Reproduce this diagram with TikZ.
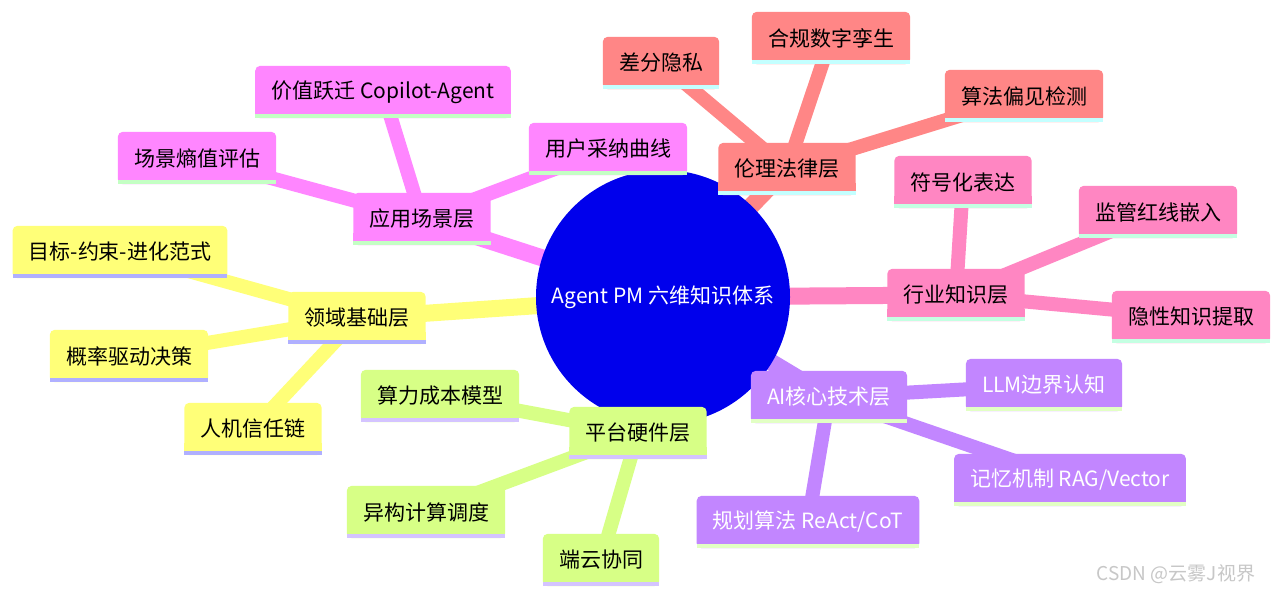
\documentclass[tikz,border=0pt]{standalone}
\usepackage{fontspec}
\setmainfont{Noto Sans CJK SC}
\usetikzlibrary{calc}
\pgfdeclarelayer{bg}
\pgfdeclarelayer{edges}
\pgfdeclarelayer{boxes}
\pgfsetlayers{bg,edges,boxes,main}
\definecolor{rootblue}{HTML}{0000EC}
\definecolor{cEth}{HTML}{FF8686}
\definecolor{bEth}{HTML}{C4FFFF}
\definecolor{cApp}{HTML}{FF86FF}
\definecolor{bApp}{HTML}{C4FFC4}
\definecolor{cDom}{HTML}{FFFF78}
\definecolor{bDom}{HTML}{B0B0FF}
\definecolor{cPlat}{HTML}{D7FF86}
\definecolor{bPlat}{HTML}{D4C4FF}
\definecolor{cAI}{HTML}{C286FF}
\definecolor{bAI}{HTML}{E2FFC4}
\definecolor{cInd}{HTML}{FF86C2}
\definecolor{bInd}{HTML}{C4FFE2}
\begin{document}
\begin{tikzpicture}[x=1pt,y=-1pt,
  box/.style={inner xsep=16pt, inner ysep=0pt, minimum height=52pt,
    font=\fontsize{21}{24}\selectfont, text=black},
  whitebox/.style={box, text=white},
  secedge/.style={line width=17pt},
  subedge/.style={line width=14pt},
  rootnode/.style={circle, inner sep=0pt, minimum size=254pt, text=white,
    font=\fontsize{21}{24}\selectfont},
  mark text/.style={font=\fontsize{19}{22}\selectfont, text=black!22}
]
\begin{pgfonlayer}{bg}
\useasboundingbox[fill=white] (0,0) rectangle (1280,596);
\end{pgfonlayer}

% root
\node[rootnode] (root) at (663,297) {Agent PM 六维知识体系};

% sections
\node[box] (eth) at (787,169) {伦理法律层};
\node[box] (app) at (422,219) {应用场景层};
\node[box] (dom) at (357,318) {领域基础层};
\node[box] (plat) at (638,433) {平台硬件层};
\node[whitebox] (ai) at (829,397) {AI核心技术层};
\node[box] (ind) at (956,295) {行业知识层};

% children
\node[box] (dp) at (661,63) {差分隐私};
\node[box] (twin) at (831,38) {合规数字孪生};
\node[box] (bias) at (1024,96) {算法偏见检测};

\node[box] (val) at (383,92) {价值跃迁 Copilot-Agent};
\node[box] (ent) at (197,158) {场景熵值评估};
\node[box] (adopt) at (608,149) {用户采纳曲线};

\node[box] (goal) at (120,252) {目标-约束-进化范式};
\node[box] (prob) at (129,356) {概率驱动决策};
\node[box] (trust) at (253,429) {人机信任链};

\node[box] (cost) at (440,396) {算力成本模型};
\node[box] (het) at (426,512) {异构计算调度};
\node[box] (edge) at (601,560) {端云协同};

\node[whitebox] (llm) at (1044,385) {LLM边界认知};
\node[whitebox] (mem) at (1070,480) {记忆机制 RAG/Vector};
\node[whitebox] (plan) at (808,522) {规划算法 ReAct/CoT};

\node[box] (sym) at (963,182) {符号化表达};
\node[box] (reg) at (1158,212) {监管红线嵌入};
\node[box] (tacit) at (1191,317) {隐性知识提取};

\node[mark text] (mark) at (1176,574) {CSDN @云雾J视界};

% edges
\begin{pgfonlayer}{edges}
  \foreach \s/\c in {eth/cEth, app/cApp, dom/cDom, plat/cPlat, ai/cAI, ind/cInd}
    \draw[secedge, \c] (root.center) -- (\s.center);
  \foreach \p/\k/\c in {eth/dp/cEth, eth/twin/cEth, eth/bias/cEth,
      app/val/cApp, app/ent/cApp, app/adopt/cApp,
      dom/goal/cDom, dom/prob/cDom, dom/trust/cDom,
      plat/cost/cPlat, plat/het/cPlat, plat/edge/cPlat,
      ai/llm/cAI, ai/mem/cAI, ai/plan/cAI,
      ind/sym/cInd, ind/reg/cInd, ind/tacit/cInd}
    \draw[subedge, \c] (\p.center) -- (\k.center);
\end{pgfonlayer}

% boxes
\begin{pgfonlayer}{boxes}
  \fill[rootblue] (root.center) circle (127pt);
  \foreach \n/\c/\b in {eth/cEth/bEth, dp/cEth/bEth, twin/cEth/bEth, bias/cEth/bEth,
      app/cApp/bApp, val/cApp/bApp, ent/cApp/bApp, adopt/cApp/bApp,
      dom/cDom/bDom, goal/cDom/bDom, prob/cDom/bDom, trust/cDom/bDom,
      plat/cPlat/bPlat, cost/cPlat/bPlat, het/cPlat/bPlat, edge/cPlat/bPlat,
      ai/cAI/bAI, llm/cAI/bAI, mem/cAI/bAI, plan/cAI/bAI,
      ind/cInd/bInd, sym/cInd/bInd, reg/cInd/bInd, tacit/cInd/bInd}
  {
    \fill[\c, rounded corners=5pt] (\n.south west) rectangle (\n.north east);
    \fill[\c] (\n.south west) rectangle ([yshift=12pt]\n.south east);
    \fill[\b] (\n.south west) rectangle ([yshift=4pt]\n.south east);
  }
\end{pgfonlayer}
\end{tikzpicture}
\end{document}
